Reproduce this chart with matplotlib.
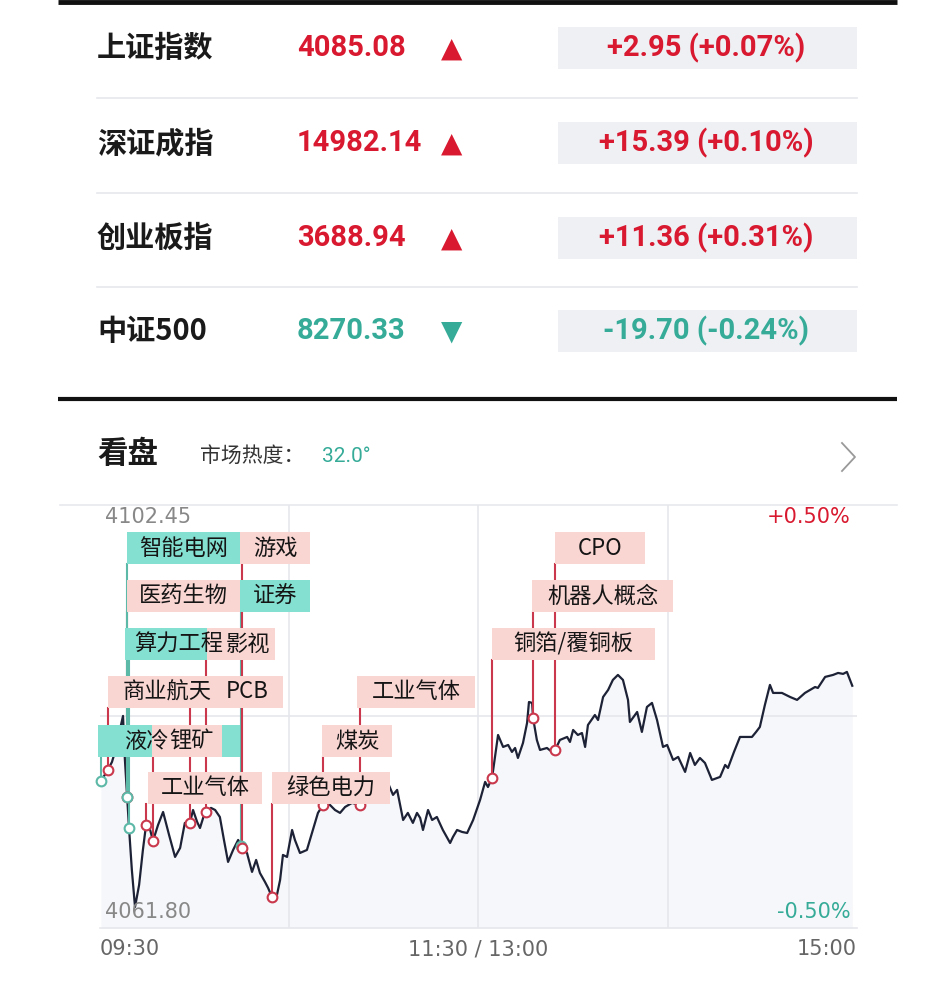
import numpy as np
import matplotlib.pyplot as plt
from matplotlib.patches import Rectangle

plt.rcParams['font.family'] = ['Noto Sans CJK SC', 'DejaVu Sans']

# index quotes
index_names = ['上证指数', '深证成指', '创业板指', '中证500']
index_prices = [4085.08, 14982.14, 3688.94, 8270.33]
index_changes = [2.95, 15.39, 11.36, -19.70]
index_pcts = [0.07, 0.10, 0.31, -0.24]
market_heat = 32.0

# intraday Shanghai composite (minutes after 09:30, trading time)
prev_close = 4082.13
y_top, y_bot = 4102.45, 4061.80
minutes = [0.3, 1.3, 2.5, 3.8, 5.1, 6.3, 7.3, 7.9, 8.6, 9.2, 10.1, 11.1, 12.4, 13.6, 14.6,
           15.9, 16.8, 18.4, 20.0, 21.9, 23.8, 25.4, 26.9, 28.5, 29.5, 30.8, 31.7, 32.7, 33.6,
           35.2, 36.5, 38.0, 39.3, 40.6, 42.2, 43.8, 45.0, 46.6, 48.2, 49.5, 50.7, 52.3, 53.3,
           54.5, 56.1, 57.1, 58.0, 59.3, 60.9, 61.8, 63.4, 65.6, 67.2, 69.1, 70.7, 72.9, 74.5,
           76.1, 77.7, 79.9, 82.4, 85.0, 87.2, 89.4, 91.3, 92.9, 94.2, 96.1, 97.6, 99.2, 100.5,
           101.5, 102.4, 104.0, 105.3, 106.8, 108.7, 111.0, 111.9, 113.2, 114.8, 116.4, 118.3,
           120.5, 122.1, 123.0, 124.3, 126.2, 127.8, 129.4, 130.6, 131.6, 132.5, 134.1, 135.4,
           136.0, 137.0, 137.3, 138.5, 139.5, 141.7, 143.3, 144.3, 145.8, 148.1, 149.0, 150.0,
           151.5, 152.8, 153.8, 154.7, 156.9, 157.9, 159.5, 161.1, 162.6, 164.2, 165.8, 167.4,
           168.0, 170.3, 171.8, 173.4, 175.0, 176.6, 178.5, 179.8, 181.7, 183.3, 185.5, 187.1,
           188.6, 190.2, 191.8, 194.0, 196.6, 198.2, 199.1, 201.0, 202.9, 204.8, 206.7, 208.0,
           209.2, 210.8, 212.4, 213.4, 216.2, 218.8, 221.0, 223.5, 225.1, 226.7, 227.6, 229.9,
           232.4, 234.0, 235.6, 236.8, 238.5]
prices = [4075.93, 4076.41, 4076.99, 4077.76, 4079.10, 4080.83, 4082.18, 4077.95, 4074.39,
          4071.41, 4067.38, 4063.82, 4065.94, 4069.30, 4071.70, 4071.22, 4070.17, 4071.70,
          4072.95, 4070.74, 4068.63, 4069.49, 4071.90, 4071.90, 4073.14, 4071.99, 4071.41,
          4072.38, 4072.95, 4073.34, 4073.14, 4072.47, 4070.26, 4068.15, 4069.30, 4070.26,
          4069.49, 4069.01, 4067.19, 4068.34, 4067.09, 4066.23, 4065.65, 4064.78, 4064.98,
          4066.42, 4068.82, 4068.63, 4071.22, 4070.26, 4069.01, 4069.30, 4070.93, 4072.86,
          4073.63, 4073.63, 4073.14, 4072.86, 4073.43, 4073.82, 4073.63, 4074.59, 4074.87,
          4075.26, 4075.74, 4074.59, 4075.07, 4072.18, 4072.86, 4071.90, 4072.86, 4072.38,
          4071.22, 4073.14, 4072.18, 4072.47, 4071.22, 4069.97, 4070.55, 4071.22, 4071.03,
          4070.93, 4072.18, 4074.11, 4075.84, 4075.35, 4076.22, 4080.35, 4079.20, 4079.39,
          4078.72, 4079.10, 4078.14, 4079.58, 4081.51, 4083.52, 4083.43, 4081.99, 4079.87,
          4078.91, 4079.10, 4078.72, 4078.91, 4079.87, 4080.16, 4079.68, 4080.83, 4080.35,
          4080.54, 4079.20, 4081.31, 4082.27, 4081.79, 4084.00, 4084.68, 4085.64, 4086.12,
          4085.64, 4083.72, 4081.60, 4082.56, 4080.64, 4083.04, 4083.43, 4081.79, 4079.20,
          4079.39, 4077.95, 4078.24, 4076.80, 4078.62, 4077.47, 4078.14, 4077.66, 4076.03,
          4076.32, 4077.47, 4077.18, 4078.72, 4080.16, 4080.16, 4080.16, 4080.64, 4081.12,
          4083.24, 4085.16, 4084.39, 4084.39, 4084.00, 4083.72, 4084.39, 4084.68, 4084.96,
          4084.87, 4085.93, 4086.12, 4086.31, 4086.22, 4086.41, 4085.08]

# sector tags: name, rising?, minute where it points at the line
tag_names = ['医药生物', '智能电网', '证券', '游戏', '算力工程', '影视', '商业航天', 'PCB',
             '液冷', '锂矿', '工业气体', '绿色电力', '煤炭', '工业气体', '铜箔/覆铜板',
             '机器人概念', 'CPO']
tag_up = [True, False, False, True, False, True, True, True,
          False, True, True, True, True, True, True, True, True]
tag_minute = [8.6, 8.6, 44.7, 45.0, 9.2, 33.6, 2.5, 28.5,
              0.3, 16.8, 14.6, 54.5, 70.7, 82.4, 124.3, 137.3, 144.3]

# layout of the tag boxes: (left minute, right minute, row, text centre minute)
tag_box = [(8.6, 44.4, 1, None), (8.6, 44.4, 0, None), (44.4, 66.6, 1, None),
           (44.4, 66.6, 0, None), (7.9, 44.7, 2, 24.8), (33.9, 55.5, 2, 46.9),
           (2.5, 39.9, 3, 21.2), (34.9, 58.0, 3, 46.7), (-0.6, 44.4, 4, 14.6),
           (16.5, 38.7, 4, 29.0), (15.2, 51.4, 5, None), (54.5, 91.9, 5, None),
           (70.4, 92.6, 4, None), (81.5, 118.9, 3, None), (124.3, 176.0, 2, None),
           (137.0, 181.7, 1, None), (144.3, 172.8, 0, None)]
row_frac = [0.898, 0.785, 0.671, 0.558, 0.442, 0.331]
box_h = 0.076

RED = '#d8192f'
GREEN = '#35ab98'
W, H = 928, 998

fig = plt.figure(figsize=(W / 100, H / 100), dpi=100)
bg = fig.add_axes([0, 0, 1, 1])
bg.set_xlim(0, W)
bg.set_ylim(H, 0)
bg.axis('off')

# quote table
bg.plot([58, 897], [2, 2], color='#111111', lw=3.5, solid_capstyle='butt')
bg.plot([58, 897], [399, 399], color='#111111', lw=3, solid_capstyle='butt')
row_y = [48, 143, 238, 331]
for i in range(len(index_names)):
    y = row_y[i]
    col = RED if index_changes[i] > 0 else GREEN
    bg.text(97, y, index_names[i], fontsize=21, fontweight='bold', color='#1a1a1a',
            ha='left', va='center')
    bg.text(297, y, f'{index_prices[i]:.2f}', family='Roboto', fontsize=21,
            fontweight='bold', color=col, ha='left', va='center')
    bg.text(452, y + 1, '▲' if index_changes[i] > 0 else '▼', family='DejaVu Sans',
            fontsize=20, color=col, ha='center', va='center')
    bg.add_patch(Rectangle((558, y - 21), 299, 42, facecolor='#eef0f4', edgecolor='none'))
    bg.text(706, y, f'{index_changes[i]:+.2f} ({index_pcts[i]:+.2f}%)', family='Roboto',
            fontsize=21, fontweight='bold', color=col, ha='center', va='center')
    if i < len(index_names) - 1:
        sy = (row_y[i] + row_y[i + 1]) / 2 + 2
        bg.plot([97, 857], [sy, sy], color='#e6e8ec', lw=1.2)

# header of the chart block
bg.text(97, 454, '看盘', fontsize=22, fontweight='bold', color='#1a1a1a', va='center')
bg.text(200, 456, '市场热度：', fontsize=15, color='#333333', va='center')
bg.text(322, 456, f'{market_heat:.1f}°', family='Roboto', fontsize=15, color=GREEN,
        va='center')
bg.plot([842, 855, 842], [443, 457, 471], color='#999999', lw=1.3)
bg.plot([60, 897], [505, 505], color='#e8e9ee', lw=1.2)

# intraday chart
ax = fig.add_axes([100 / W, (H - 928) / H, 757 / W, 423 / H])
ax.set_xlim(0, 240)
ax.set_ylim(y_bot, y_top)
ax.patch.set_alpha(0)
for s in ['top', 'left', 'right']:
    ax.spines[s].set_visible(False)
ax.spines['bottom'].set_color('#e6e7ec')
ax.spines['bottom'].set_linewidth(1.2)
ax.set_yticks([])

ax.fill_between(minutes, prices, y_bot, color='#f6f7fa', lw=0, zorder=1)
for m in [60, 120, 180]:
    ax.axvline(m, color='#e6e7ec', lw=1.2, zorder=1.5)
ax.axhline(prev_close, color='#e6e7ec', lw=1.2, zorder=1.5)
ax.plot(minutes, prices, color='#1d2236', lw=1.6, zorder=3)

span = y_top - y_bot
for name, up, mx, (l, r, row, tx) in zip(tag_names, tag_up, tag_minute, tag_box):
    yc = y_bot + row_frac[row] * span
    h = box_h * span
    stem_col = '#c9384c' if up else '#5cb8a7'
    box_col = '#fad6d3' if up else '#84e1d2'
    py = np.interp(mx, minutes, prices)
    ax.plot([mx, mx], [yc - h / 2, py], color=stem_col, lw=1.5, zorder=4, clip_on=False)
    ax.plot(mx, py, 'o', ms=7, mfc='white', mec=stem_col, mew=1.5, zorder=5, clip_on=False)
    ax.add_patch(Rectangle((l, yc - h / 2), r - l, h, facecolor=box_col, edgecolor='none',
                           zorder=6, clip_on=False))
    if tx is None:
        tx = (l + r) / 2
    ax.text(tx, yc, name, fontsize=16, color='#151515', ha='center',
            va='center', zorder=7, clip_on=False)

ax.text(0.0066, 0.972, f'{y_top:.2f}', transform=ax.transAxes, family='DejaVu Sans',
        fontsize=15, color='#888888', ha='left', va='center')
ax.text(0.0066, 0.038, f'{y_bot:.2f}', transform=ax.transAxes, family='DejaVu Sans',
        fontsize=15, color='#888888', ha='left', va='center')
ax.text(0.992, 0.972, f'{(y_top / prev_close - 1) * 100:+.2f}%', transform=ax.transAxes,
        family='DejaVu Sans', fontsize=15, color=RED, ha='right', va='center')
ax.text(0.992, 0.038, f'{(y_bot / prev_close - 1) * 100:+.2f}%', transform=ax.transAxes,
        family='DejaVu Sans', fontsize=15, color=GREEN, ha='right', va='center')

ax.set_xticks([0, 120, 240], ['09:30', '11:30 / 13:00', '15:00'])
ax.tick_params(axis='x', length=0, pad=8, labelsize=15, labelcolor='#666666')
labels = ax.get_xticklabels()
for lab in labels:
    lab.set_fontfamily('DejaVu Sans')
labels[0].set_ha('left')
labels[-1].set_ha('right')

fig.savefig('out.png', dpi=100)
